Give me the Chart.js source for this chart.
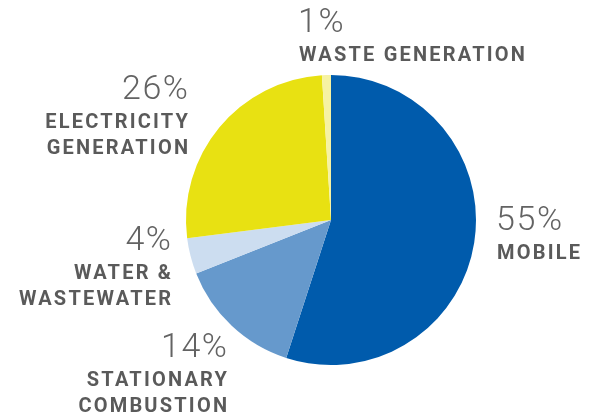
<!DOCTYPE html>
<html>
<head>
<meta charset="utf-8">
<script src="https://cdn.jsdelivr.net/npm/chart.js@4"></script>
<style>
  html, body { margin: 0; padding: 0; background: #fff; }
  #wrap { width: 590px; height: 414px; }
</style>
</head>
<body>
<div id="wrap"><canvas id="graficopizza" width="590" height="414"></canvas></div>
<script>
const categories = ['MOBILE', 'STATIONARY COMBUSTION', 'WATER & WASTEWATER', 'ELECTRICITY GENERATION', 'WASTE GENERATION'];
const shares = [55, 14, 4, 26, 1];
const colors = ['#005BAC', '#6699CC', '#CCDDF0', '#E8E112', '#F6F2A2'];

// label placement: x, y of percent, align, name lines
const labelSpots = [
    { x: 496, y: 221, align: 'left', lines: ['MOBILE'] },
    { x: 227, y: 348, align: 'right', lines: ['STATIONARY', 'COMBUSTION'] },
    { x: 171, y: 241, align: 'right', lines: ['WATER &', 'WASTEWATER'] },
    { x: 188, y: 90, align: 'right', lines: ['ELECTRICITY', 'GENERATION'] },
    { x: 298, y: 23, align: 'left', lines: ['WASTE GENERATION'] }
];

const labelPlugin = {
    id: 'pieLabels',
    afterDraw(chart) {
        const ctx = chart.ctx;
        ctx.save();
        ctx.textBaseline = 'middle';
        shares.forEach((v, i) => {
            const s = labelSpots[i];
            ctx.textAlign = s.align;
            ctx.fillStyle = '#636363';
            ctx.font = '300 34px Roboto';
            ctx.letterSpacing = '1.6px';
            ctx.fillText(v + '%', s.x + (s.align === 'right' ? 1.6 : 0), s.y);
            ctx.fillStyle = '#5a5a5a';
            ctx.font = 'bold 20px Roboto';
            ctx.letterSpacing = '2.2px';
            s.lines.forEach((ln, j) => {
                ctx.fillText(ln, s.x + (s.align === 'right' ? 2.2 : 1), s.y + 33 + j * 26);
            });
        });
        ctx.restore();
    }
};

const configPizza = {
    type: 'pie',
    data: {
        labels: categories,
        datasets: [{
            data: shares,
            backgroundColor: colors,
            borderWidth: 0
        }]
    },
    options: {
        responsive: false,
        animation: false,
        layout: {
            padding: { left: 186, right: 114, top: 75, bottom: 49 }
        },
        plugins: {
            legend: { display: false },
            tooltip: { enabled: false }
        }
    },
    plugins: [labelPlugin]
};

const pizza = new Chart(document.getElementById('graficopizza'), configPizza);
</script>
</body>
</html>
